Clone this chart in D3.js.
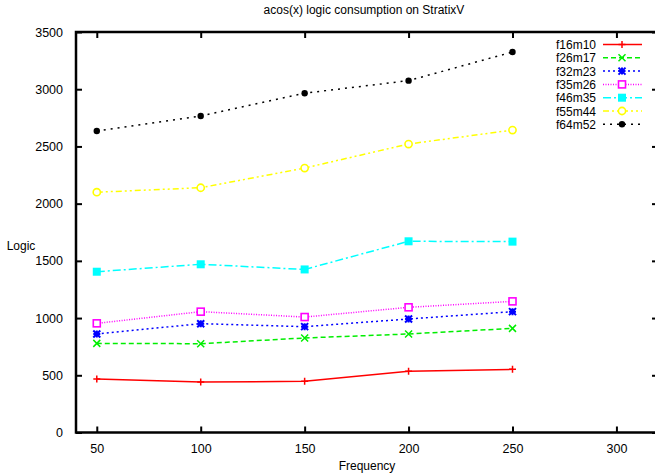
<!DOCTYPE html>
<html>
<head>
<meta charset="utf-8">
<script src="https://cdn.jsdelivr.net/npm/d3@7"></script>
<style>
	body { margin: 0; background: #fff; }
	text { font-family: "Liberation Sans", Arial, sans-serif; font-size: 12px; fill: #000; }
</style>
</head>
<body>
<div id="chart"></div>
<script>
	'use strict';

	var frequencies = [50, 100, 150, 200, 250];
	var xTicks = [50, 100, 150, 200, 250, 300];
	var yTicks = [0, 500, 1000, 1500, 2000, 2500, 3000, 3500];

	var f16m10 = [467, 441, 447, 535, 552];
	var f26m17 = [779, 776, 826, 861, 910];
	var f32m23 = [861, 951, 925, 992, 1056];
	var f35m26 = [954, 1056, 1009, 1094, 1146];
	var f46m35 = [1405, 1470, 1425, 1671, 1668];
	var f55m44 = [2100, 2139, 2311, 2521, 2643];
	var f64m52 = [2635, 2766, 2965, 3075, 3325];

	var seriesNames = ['f16m10', 'f26m17', 'f32m23', 'f35m26', 'f46m35', 'f55m44', 'f64m52'];
	var seriesValues = [f16m10, f26m17, f32m23, f35m26, f46m35, f55m44, f64m52];

	var styles = [
		{ color: '#ff0000', dash: null, marker: 'plus' },
		{ color: '#00ee00', dash: '5,3', marker: 'cross' },
		{ color: '#0000ff', dash: '2,3', marker: 'star' },
		{ color: '#ff00ff', dash: '1,1.5', marker: 'box' },
		{ color: '#00ffff', dash: '8,3,2,3', marker: 'fbox' },
		{ color: '#ffff00', dash: '6,3,2,3,2,3', marker: 'circle' },
		{ color: '#000000', dash: '2,5', marker: 'fcircle' }
	];

	var width = 655, height = 474;
	var plot = { left: 76, right: 658, top: 32, bottom: 432.5 };

	var xScale = d3.scaleLinear().domain([40, 320]).range([plot.left, plot.right]),
		yScale = d3.scaleLinear().domain([0, 3500]).range([plot.bottom, plot.top]);

	var svg = d3.select('#chart')
		.append('svg')
		.attr('width', width)
		.attr('height', height);

	// AXES (gnuplot style: inward ticks, mirrored)
	svg.append('g')
		.attr('transform', 'translate(0,' + plot.bottom + ')')
		.call(d3.axisBottom(xScale).tickValues(xTicks).tickSizeInner(-6).tickSizeOuter(0).tickPadding(12).tickFormat(d3.format('d')))
		.call(function (g) { g.select('.domain').remove(); });

	svg.append('g')
		.attr('transform', 'translate(0,' + plot.top + ')')
		.call(d3.axisTop(xScale).tickValues(xTicks).tickSizeInner(-6).tickSizeOuter(0).tickFormat(''))
		.call(function (g) { g.select('.domain').remove(); });

	svg.append('g')
		.attr('transform', 'translate(' + plot.left + ',0)')
		.call(d3.axisLeft(yScale).tickValues(yTicks).tickSizeInner(-6).tickSizeOuter(0).tickPadding(13).tickFormat(d3.format('d')))
		.call(function (g) { g.select('.domain').remove(); });

	svg.append('g')
		.attr('transform', 'translate(' + plot.right + ',0)')
		.call(d3.axisRight(yScale).tickValues(yTicks).tickSizeInner(-6).tickSizeOuter(0).tickFormat(''))
		.call(function (g) { g.select('.domain').remove(); });

	svg.selectAll('.tick line').attr('stroke', '#000').attr('stroke-width', 2);
	svg.selectAll('.tick text').style('font-size', '12.5px').attr('fill', '#000');

	svg.append('rect')
		.attr('x', plot.left)
		.attr('y', plot.top)
		.attr('width', plot.right - plot.left)
		.attr('height', plot.bottom - plot.top)
		.attr('fill', 'none')
		.attr('stroke', '#000')
		.attr('stroke-width', 2.5);

	// TITLES
	svg.append('text')
		.attr('x', 364).attr('y', 14)
		.attr('text-anchor', 'middle')
		.text('acos(x) logic consumption on StratixV');

	svg.append('text')
		.attr('x', 367).attr('y', 470)
		.attr('text-anchor', 'middle')
		.text('Frequency');

	svg.append('text')
		.attr('x', 21).attr('y', 250)
		.attr('text-anchor', 'middle')
		.text('Logic');

	// MARKERS
	function drawMarker(g, type, color, cx, cy) {
		var s = 3.5;
		if (type === 'plus') {
			g.append('path').attr('d', 'M' + (cx - s) + ',' + cy + 'H' + (cx + s) + 'M' + cx + ',' + (cy - s) + 'V' + (cy + s))
				.attr('stroke', color).attr('stroke-width', 1.5);
		} else if (type === 'cross') {
			g.append('path').attr('d', 'M' + (cx - s) + ',' + (cy - s) + 'L' + (cx + s) + ',' + (cy + s) + 'M' + (cx - s) + ',' + (cy + s) + 'L' + (cx + s) + ',' + (cy - s))
				.attr('stroke', color).attr('stroke-width', 1.5);
		} else if (type === 'star') {
			g.append('path').attr('d', 'M' + (cx - s) + ',' + (cy - s) + 'L' + (cx + s) + ',' + (cy + s) + 'M' + (cx - s) + ',' + (cy + s) + 'L' + (cx + s) + ',' + (cy - s) +
				'M' + (cx - s) + ',' + cy + 'H' + (cx + s) + 'M' + cx + ',' + (cy - s) + 'V' + (cy + s))
				.attr('stroke', color).attr('stroke-width', 2);
		} else if (type === 'box') {
			g.append('rect').attr('x', cx - 3.5).attr('y', cy - 3.5).attr('width', 7).attr('height', 7)
				.attr('fill', '#fff').attr('stroke', color).attr('stroke-width', 1.6);
		} else if (type === 'fbox') {
			g.append('rect').attr('x', cx - 4).attr('y', cy - 4).attr('width', 8).attr('height', 8)
				.attr('fill', color);
		} else if (type === 'circle') {
			g.append('circle').attr('cx', cx).attr('cy', cy).attr('r', 3.6)
				.attr('fill', '#fff').attr('stroke', color).attr('stroke-width', 1.6);
		} else if (type === 'fcircle') {
			g.append('circle').attr('cx', cx).attr('cy', cy).attr('r', 3.2).attr('fill', color);
		}
	}

	var line = d3.line()
		.x(function (d) { return xScale(d[0]); })
		.y(function (d) { return yScale(d[1]); });

	seriesValues.forEach(function (vals, i) {
		var st = styles[i];
		var pts = frequencies.map(function (f, j) { return [f, vals[j]]; });
		var g = svg.append('g').attr('class', 'series ' + seriesNames[i]);

		g.append('path')
			.datum(pts)
			.attr('d', line)
			.attr('fill', 'none')
			.attr('stroke', st.color)
			.attr('stroke-width', 1.5)
			.attr('stroke-dasharray', st.dash);

		pts.forEach(function (p) {
			drawMarker(g, st.marker, st.color, xScale(p[0]), yScale(p[1]));
		});

		// LEGEND
		var ly = 44.5 + i * 13.3;
		svg.append('text')
			.attr('x', 596).attr('y', ly + 4.5)
			.attr('text-anchor', 'end')
			.text(seriesNames[i]);
		svg.append('line')
			.attr('x1', 603).attr('x2', 642).attr('y1', ly).attr('y2', ly)
			.attr('stroke', st.color)
			.attr('stroke-width', 1.5)
			.attr('stroke-dasharray', st.dash);
		drawMarker(svg, st.marker, st.color, 622, ly);
	});
</script>
</body>
</html>
